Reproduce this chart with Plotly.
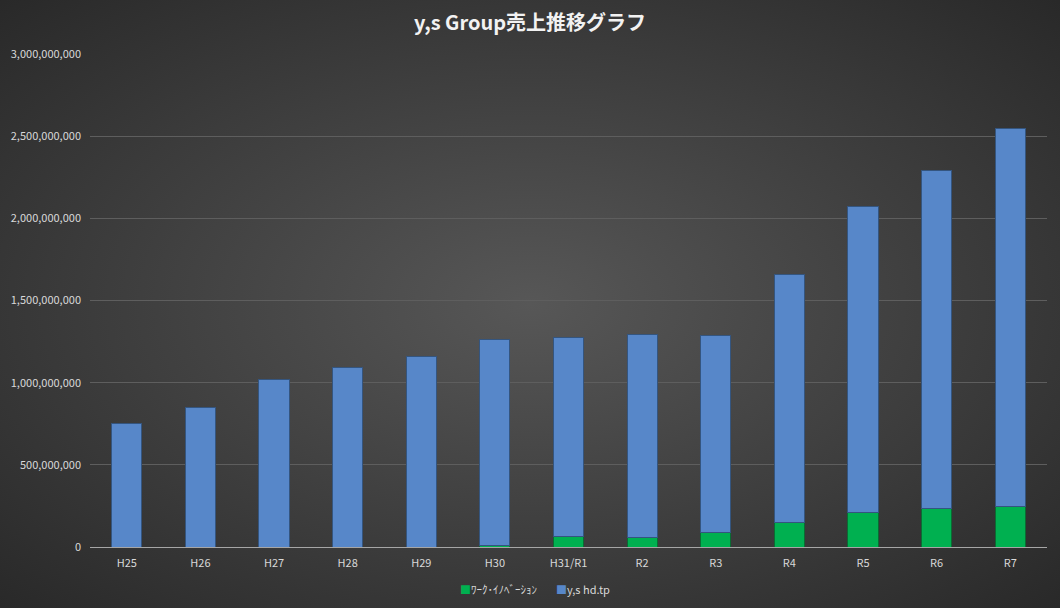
import base64
import plotly.graph_objects as go

# 年度
years = ["H25", "H26", "H27", "H28", "H29", "H30", "H31/R1",
         "R2", "R3", "R4", "R5", "R6", "R7"]

# ワーク・イノベーション 売上
work_innovation = [0, 0, 0, 0, 0, 12_000_000, 61_000_000,
                   60_000_000, 91_000_000, 148_000_000, 207_000_000,
                   233_000_000, 245_000_000]

# y,s hd.tp 売上（積み上げ上段）
ys_hdtp = [754_000_000, 846_000_000, 1_022_000_000, 1_095_000_000,
           1_162_000_000, 1_248_000_000, 1_211_000_000, 1_236_000_000,
           1_199_000_000, 1_513_000_000, 1_868_000_000, 2_061_000_000,
           2_299_000_000]

y_ticks = [0, 500_000_000, 1_000_000_000, 1_500_000_000,
           2_000_000_000, 2_500_000_000, 3_000_000_000]

GREEN = "#00b050"
BLUE = "#5787c9"

W, H = 1060, 608
ML, MR, MT, MB = 90, 13, 54, 61
pw, ph = W - ML - MR, H - MT - MB

# 背景のラジアルグラデーション（Excel風）
bg_svg = f"""<svg xmlns='http://www.w3.org/2000/svg' width='{W}' height='{H}'>
<defs><radialGradient id='g' cx='50%' cy='50%' r='75%'>
<stop offset='0%' stop-color='#575757'/>
<stop offset='100%' stop-color='#262626'/>
</radialGradient></defs>
<rect width='{W}' height='{H}' fill='url(#g)'/></svg>"""
bg_uri = "data:image/svg+xml;base64," + base64.b64encode(bg_svg.encode()).decode()

fig = go.Figure()
fig.add_trace(go.Bar(
    x=years, y=work_innovation, name="ﾜｰｸ･ｲﾉﾍﾞｰｼｮﾝ",
    marker=dict(color=GREEN, line=dict(color="#0b6b33", width=1)),
))
fig.add_trace(go.Bar(
    x=years, y=ys_hdtp, name="y,s hd.tp",
    marker=dict(color=BLUE, line=dict(color="#34557f", width=1)),
))

# 凡例（Excel風に記号と文字を近づける）
legend_items = [(GREEN, "ﾜｰｸ･ｲﾉﾍﾞｰｼｮﾝ", (458 - ML) / pw),
                (BLUE, "y,s hd.tp", (554 - ML) / pw)]
annotations = [
    dict(text=f"<span style='color:{c}'>■</span>{t}", x=x, y=(547 - 589) / ph,
         xref="paper", yref="paper", xanchor="left", yanchor="middle",
         showarrow=False, font=dict(size=11, color="#d9d9d9"))
    for c, t, x in legend_items
]

fig.update_layout(
    barmode="stack",
    bargap=0.59,
    width=W, height=H,
    paper_bgcolor="#3c3c3c",
    plot_bgcolor="rgba(0,0,0,0)",
    images=[dict(source=bg_uri, xref="paper", yref="paper",
                 x=-ML / pw, y=1 + MT / ph, sizex=W / pw, sizey=H / ph,
                 xanchor="left", yanchor="top", sizing="stretch",
                 layer="below")],
    title=dict(text="<b>y,s Group売上推移グラフ</b>", x=0.5, xanchor="center",
               y=1 - 23 / H, yanchor="middle",
               font=dict(family="Noto Sans CJK JP, Noto Sans", size=20,
                         color="#f2f2f2")),
    font=dict(family="Noto Sans CJK JP, Noto Sans, DejaVu Sans", size=11,
              color="#d9d9d9"),
    margin=dict(l=ML, r=MR, t=MT, b=MB),
    xaxis=dict(showgrid=False, showline=True, linecolor="#a6a6a6",
               linewidth=1, ticks="", ticklabelstandoff=6,
               tickfont=dict(size=11, color="#d9d9d9")),
    yaxis=dict(range=[0, 3_000_000_000], tickvals=y_ticks,
               tickformat=",d", showgrid=True, gridcolor="#5e5e5e",
               gridwidth=1, zeroline=False, showline=False,
               ticks="", ticklabelstandoff=8,
               tickfont=dict(size=11, color="#d9d9d9")),
    annotations=annotations,
    showlegend=False,
)

fig.write_html("out.html", config={"displayModeBar": False},
               post_script="document.body.style.margin='0';"
                           "document.body.style.background='#262626';")
